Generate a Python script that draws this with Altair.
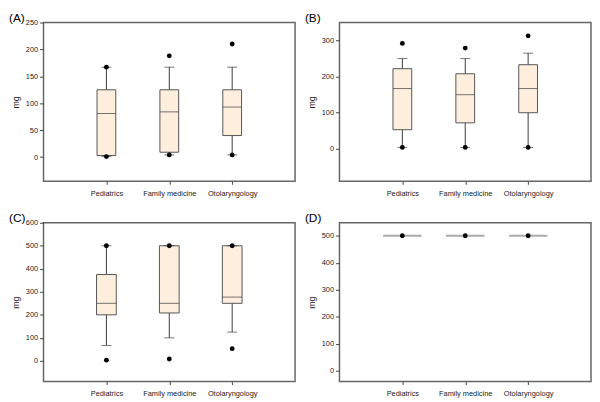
import altair as alt
import pandas as pd

categories = ["Pediatrics", "Family medicine", "Otolaryngology"]

# Panel A
a_q1 = [3, 9, 40]
a_median = [81, 84, 93]
a_q3 = [125, 125, 125]
a_low = [1, 4, 4]
a_high = [167, 167, 167]
a_points = [[167, 1], [188, 4], [210, 4]]
a_ticks = [0, 50, 100, 150, 200, 250]

# Panel B
b_q1 = [53, 72, 100]
b_median = [167, 150, 167]
b_q3 = [222, 208, 233]
b_low = [4, 4, 4]
b_high = [250, 250, 265]
b_points = [[292, 4], [279, 4], [313, 4]]
b_ticks = [0, 100, 200, 300]

# Panel C
c_q1 = [200, 208, 250]
c_median = [250, 250, 277]
c_q3 = [375, 500, 500]
c_low = [67, 100, 125]
c_high = [500, 500, 500]
c_points = [[500, 3], [500, 8], [500, 53]]
c_ticks = [0, 100, 200, 300, 400, 500, 600]

# Panel D
d_q1 = [500, 500, 500]
d_median = [500, 500, 500]
d_q3 = [500, 500, 500]
d_low = [500, 500, 500]
d_high = [500, 500, 500]
d_points = [[500], [500], [500]]
d_ticks = [0, 100, 200, 300, 400, 500]

FONT = "Liberation Sans"
W, H = 255, 161
BOX_FILL = "#FDEEDE"
DARK = "#3a3a3a"


def panel(label, q1, med, q3, lo, hi, points, domain, ticks, box_w, collapsed=False):
    box_df = pd.DataFrame({"cat": categories, "q1": q1, "med": med, "q3": q3,
                           "lo": lo, "hi": hi})
    pts_df = pd.DataFrame([{"cat": c, "v": v} for c, vs in zip(categories, points) for v in vs])
    x = alt.X("cat:N", sort=categories,
              scale=alt.Scale(type="point", padding=1, domain=categories),
              axis=alt.Axis(title=None, labelAngle=0, tickSize=3, labelPadding=5))
    ys = alt.Scale(domain=domain, nice=False, zero=False)
    ya = alt.Axis(title="mg", values=ticks, tickSize=4, labelPadding=2, titlePadding=5)

    def Y(f):
        return alt.Y(f, scale=ys, axis=ya)

    base = alt.Chart(box_df).encode(x=x)
    layers = []
    if not collapsed:
        layers.append(base.mark_rule(color=DARK, strokeWidth=1).encode(y=Y("lo:Q"), y2="hi:Q"))
        layers.append(base.mark_bar(size=box_w, fill=BOX_FILL, stroke="#555555",
                                    strokeWidth=1).encode(y=Y("q1:Q"), y2="q3:Q"))
        layers.append(base.mark_tick(size=box_w, thickness=1, color=DARK).encode(y=Y("med:Q")))
        layers.append(base.mark_tick(size=10, thickness=1, color=DARK).encode(y=Y("lo:Q")))
        layers.append(base.mark_tick(size=10, thickness=1, color=DARK).encode(y=Y("hi:Q")))
    else:
        layers.append(base.mark_tick(size=box_w, thickness=2, color="#888888").encode(y=Y("med:Q")))
    layers.append(alt.Chart(pts_df).mark_circle(size=24, color="black", opacity=1)
                  .encode(x=x, y=Y("v:Q")))
    lab_df = pd.DataFrame({"t": [label]})
    layers.append(alt.Chart(lab_df).mark_text(font=FONT, fontSize=12, align="left",
                                              baseline="top", color="black")
                  .encode(text="t:N", x=alt.value(-35), y=alt.value(-10)))
    return alt.layer(*layers).properties(width=W, height=H)


pa = panel("(A)", a_q1, a_median, a_q3, a_low, a_high, a_points, [-45, 250], a_ticks, 19)
pb = panel("(B)", b_q1, b_median, b_q3, b_low, b_high, b_points, [-90, 350], b_ticks, 19)
pc = panel("(C)", c_q1, c_median, c_q3, c_low, c_high, c_points, [-90, 600], c_ticks, 20)
pd_ = panel("(D)", d_q1, d_median, d_q3, d_low, d_high, d_points, [-40, 548], d_ticks, 39,
            collapsed=True)

chart = alt.vconcat(
    alt.hconcat(pa, pb, spacing=8),
    alt.hconcat(pc, pd_, spacing=8),
    spacing=13,
).properties(padding=0, background="white").configure_view(
    stroke="#666666", strokeWidth=1.5
).configure_axis(
    domain=False, grid=False,
    labelFont=FONT, labelFontSize=7.5, labelColor="#222222",
    tickColor="#444444", tickWidth=1,
    titleFont=FONT, titleFontSize=9, titleFontWeight="normal", titleColor="#222222",
)

chart.save("out.html", embed_options={"renderer": "svg", "actions": False})
